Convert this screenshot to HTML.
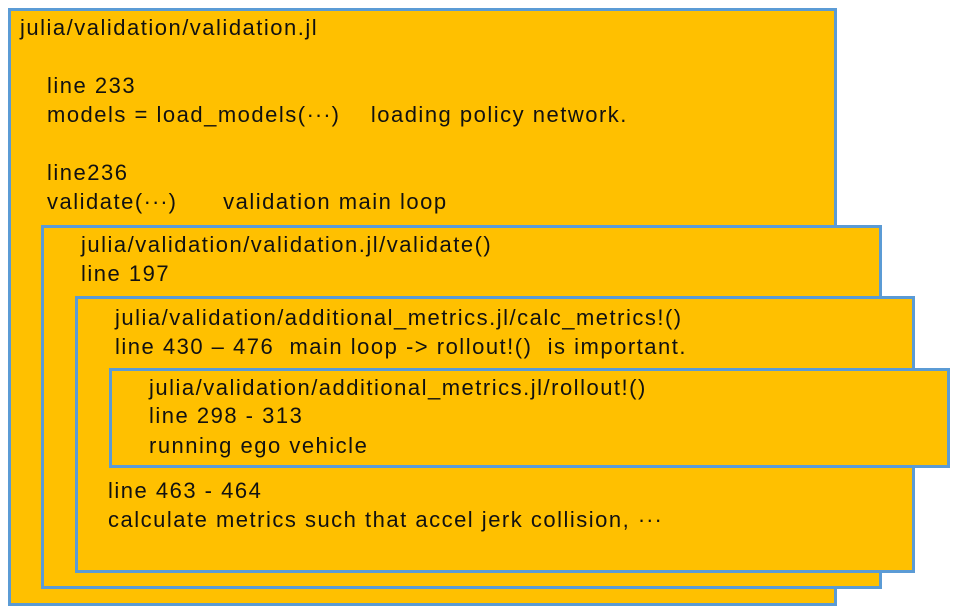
<!DOCTYPE html>
<html><head><style>
body{margin:0;width:971px;height:614px;background:#fff;position:relative;overflow:hidden;font-family:"Liberation Sans","Noto Sans CJK JP",sans-serif;}
.b{position:absolute;background:#FFC000;border:3px solid #5B9BD5;box-sizing:border-box;}
.t{position:absolute;font-size:22px;line-height:29px;color:#111;white-space:pre;letter-spacing:1.5px;}
.e{letter-spacing:1px;}
</style></head><body>
<div class="b" style="left:8px;top:8px;width:829px;height:598px"></div>
<div class="b" style="left:41px;top:225px;width:841px;height:364px"></div>
<div class="b" style="left:75px;top:296px;width:840px;height:277px"></div>
<div class="b" style="left:109px;top:368px;width:841px;height:100px"></div>
<div class="t" style="left:20px;top:13px">julia/validation/validation.jl</div>
<div class="t" style="left:47px;top:71px">line 233</div>
<div class="t" style="left:47px;top:100px">models = load_models(<span class="e">···</span>)    loading policy network.</div>
<div class="t" style="left:47px;top:158px">line236</div>
<div class="t" style="left:47px;top:187px">validate(<span class="e">···</span>)      validation main loop</div>
<div class="t" style="left:81px;top:230px">julia/validation/validation.jl/validate()</div>
<div class="t" style="left:81px;top:259px">line 197</div>
<div class="t" style="left:115px;top:303px">julia/validation/additional_metrics.jl/calc_metrics!()</div>
<div class="t" style="left:115px;top:332px">line 430 – 476  main loop -&gt; rollout!()  is important.</div>
<div class="t" style="left:149px;top:373px">julia/validation/additional_metrics.jl/rollout!()</div>
<div class="t" style="left:149px;top:401px">line 298 - 313</div>
<div class="t" style="left:149px;top:431px">running ego vehicle</div>
<div class="t" style="left:108px;top:476px">line 463 - 464</div>
<div class="t" style="left:108px;top:505px">calculate metrics such that accel jerk collision, <span class="e">···</span></div>
</body></html>
